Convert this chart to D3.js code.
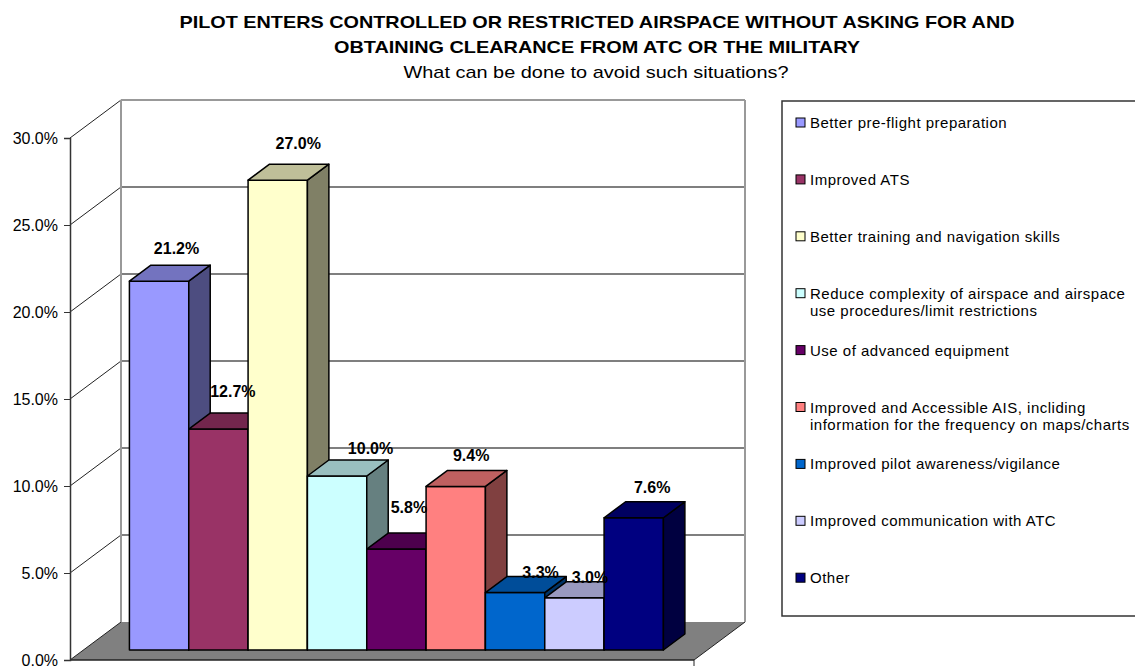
<!DOCTYPE html>
<html>
<head>
<meta charset="utf-8">
<script src="https://cdn.jsdelivr.net/npm/d3@7"></script>
<style>
  body { margin: 0; background: #fff; }
  svg { display: block; font-family: "Liberation Sans", Arial, sans-serif; }
</style>
</head>
<body>
<div class="center"></div>
<script>
// chart data
var titleLines = ["PILOT ENTERS CONTROLLED OR RESTRICTED AIRSPACE WITHOUT ASKING FOR AND",
                  "OBTAINING CLEARANCE FROM ATC OR THE MILITARY"];
var subtitle = "What can be done to avoid such situations?";
var answers = ["Better pre-flight preparation",
               "Improved ATS",
               "Better training and navigation skills",
               "Reduce complexity of airspace and airspace\nuse procedures/limit restrictions",
               "Use of advanced equipment",
               "Improved and Accessible AIS, incliding\ninformation for the frequency on maps/charts",
               "Improved pilot awareness/vigilance",
               "Improved communication with ATC",
               "Other"];
var shares = [21.2, 12.7, 27.0, 10.0, 5.8, 9.4, 3.3, 3.0, 7.6];
var colours = ["#9999FF", "#993366", "#FFFFCC", "#CCFFFF", "#660066",
               "#FF8080", "#0066CC", "#CCCCFF", "#000080"];
var yTicks = [0, 5, 10, 15, 20, 25, 30];

var W = 1135, H = 666;

// 3d box: front plane and how far the back wall is pushed
var front = {left: 70, right: 694, bottom: 660, top: 138};
var depth = {dx: 51, dy: -38};
var z0 = 0.263, z1 = 0.684;   // bars sit between these depths

var y = d3.scaleLinear().domain([0, 30]).range([front.bottom, front.top]);
var x = d3.scaleBand().domain(answers)
    .range([front.left + 46, front.right - 44]).padding(0);
var colour = d3.scaleOrdinal().domain(answers).range(colours);

function p(px, py, z) { return [px + z * depth.dx, py + z * depth.dy]; }
function poly(pts) { return pts.map(function(d) { return d.join(","); }).join(" "); }

var svg = d3.select(".center").append("svg")
    .attr("width", W).attr("height", H);

// titles (the original renders them quite wide)
var titleWidths = [835, 526];
svg.selectAll("text.title")
    .data(titleLines)
    .enter().append("text")
    .attr("class", "title")
    .attr("x", 597)
    .attr("y", function(d, i) { return 28 + i * 25; })
    .attr("text-anchor", "middle")
    .attr("textLength", function(d, i) { return titleWidths[i]; })
    .attr("lengthAdjust", "spacingAndGlyphs")
    .style("font-weight", "bold")
    .style("font-size", "17px")
    .text(function(d) { return d; });

svg.append("text")
    .attr("x", 596).attr("y", 78)
    .attr("text-anchor", "middle")
    .attr("textLength", 385)
    .attr("lengthAdjust", "spacingAndGlyphs")
    .style("font-size", "17px")
    .text(subtitle);

// floor
var fl = front.left, fr = front.right, fb = front.bottom;
svg.append("polygon")
    .attr("points", poly([[fl, fb], [fr, fb], p(fr, fb, 1), p(fl, fb, 1)]))
    .style("fill", "#808080");
svg.append("line")
    .attr("x1", fr).attr("y1", fb).attr("x2", p(fr, fb, 1)[0]).attr("y2", p(fr, fb, 1)[1])
    .style("stroke", "#222").style("stroke-width", 1);

// back wall gridlines and side wall diagonals
yTicks.forEach(function(t) {
    var a = p(fl, y(t), 1), b = p(fr, y(t), 1);
    if (t > 0) {
        svg.append("line")
            .attr("x1", a[0]).attr("y1", a[1]).attr("x2", b[0]).attr("y2", b[1])
            .style("stroke", t == 30 ? "#999" : "#555").style("stroke-width", t == 30 ? 2 : 1.5);
    }
    svg.append("line")
        .attr("x1", fl).attr("y1", y(t)).attr("x2", a[0]).attr("y2", a[1])
        .style("stroke", "#222").style("stroke-width", 1);
});
var tl = p(fl, y(30), 1), bl = p(fl, y(0), 1), tr = p(fr, y(30), 1), br = p(fr, y(0), 1);
svg.append("line").attr("x1", tl[0]).attr("y1", tl[1]).attr("x2", bl[0]).attr("y2", bl[1])
    .style("stroke", "#999").style("stroke-width", 2);
svg.append("line").attr("x1", tr[0]).attr("y1", tr[1]).attr("x2", br[0]).attr("y2", br[1])
    .style("stroke", "#999").style("stroke-width", 2);

// front floor edge
svg.append("line").attr("x1", fl).attr("y1", fb).attr("x2", fr).attr("y2", fb)
    .style("stroke", "#222").style("stroke-width", 1.5);
svg.append("line").attr("x1", fr).attr("y1", fb).attr("x2", fr).attr("y2", fb + 6)
    .style("stroke", "#222").style("stroke-width", 1);

// y axis
var yAxis = svg.append("g")
    .attr("transform", "translate(" + fl + ",0)")
    .call(d3.axisLeft(y).tickValues(yTicks).tickSize(6)
        .tickFormat(function(d) { return d.toFixed(1) + "%"; }));
yAxis.select(".domain").style("stroke", "#333").style("stroke-width", 1.5);
yAxis.selectAll(".tick line").style("stroke", "#333");
yAxis.selectAll(".tick text")
    .attr("x", -12)
    .style("font-family", "Liberation Sans, Arial, sans-serif")
    .style("font-size", "16px")
    .style("fill", "#000");

// bars, left to right so each covers its neighbour's side
var bars = answers.map(function(a, i) { return {name: a, value: shares[i]}; });

function shade(c, k) {
    var r = d3.rgb(c);
    return d3.rgb(r.r * k, r.g * k, r.b * k).toString();
}

bars.forEach(function(d) {
    var xl = x(d.name), xr = xl + x.bandwidth();
    var yt = y(d.value), yb = y(0);
    var g = svg.append("g");
    g.append("polygon")
        .attr("points", poly([p(xl, yt, z0), p(xr, yt, z0), p(xr, yb, z0), p(xl, yb, z0)]))
        .style("fill", colour(d.name));
    g.append("polygon")
        .attr("points", poly([p(xr, yt, z0), p(xr, yt, z1), p(xr, yb, z1), p(xr, yb, z0)]))
        .style("fill", shade(colour(d.name), 0.5));
    g.append("polygon")
        .attr("points", poly([p(xl, yt, z0), p(xl, yt, z1), p(xr, yt, z1), p(xr, yt, z0)]))
        .style("fill", shade(colour(d.name), 0.75));
    g.selectAll("polygon")
        .style("stroke", "#000").style("stroke-width", 1.5).style("stroke-linejoin", "round");
});

// value labels sit over the back of each bar top; the original has them
// dragged around by hand, so each gets a small nudge
var labelNudge = [[-4, -2], [-7, -7], [-1, -6], [12, 3], [-9, -11],
                  [-6, 0], [4, 10], [-6, 10], [-3, 0]];
svg.selectAll("text.value")
    .data(bars)
    .enter().append("text")
    .attr("class", "value")
    .attr("x", function(d, i) {
        return p(x(d.name) + x.bandwidth() / 2, 0, z1)[0] + labelNudge[i][0];
    })
    .attr("y", function(d, i) {
        return p(0, y(d.value), z1)[1] - 9 + labelNudge[i][1];
    })
    .attr("text-anchor", "middle")
    .style("font-weight", "bold")
    .style("font-size", "16px")
    .text(function(d) { return d.value.toFixed(1) + "%"; });

// legend
var legend = svg.append("g").attr("transform", "translate(782,101)");
legend.append("rect")
    .attr("width", 360).attr("height", 515)
    .style("fill", "#fff").style("stroke", "#333").style("stroke-width", 1.5);

var items = legend.selectAll("g.item")
    .data(answers)
    .enter().append("g")
    .attr("class", "item")
    .attr("transform", function(d, i) { return "translate(0," + (22 + i * 56.9) + ")"; });
items.append("rect")
    .attr("x", 14).attr("y", -5).attr("width", 9).attr("height", 9)
    .style("fill", function(d) { return colour(d); })
    .style("stroke", "#000").style("stroke-width", 1);
items.append("text")
    .attr("x", 28).attr("y", 5)
    .style("font-size", "15px")
    .style("letter-spacing", "0.5px")
    .selectAll("tspan")
    .data(function(d) { return d.split("\n"); })
    .enter().append("tspan")
    .attr("x", 28)
    .attr("dy", function(d, i) { return i ? 17 : 0; })
    .text(function(d) { return d; });
</script>
</body>
</html>
